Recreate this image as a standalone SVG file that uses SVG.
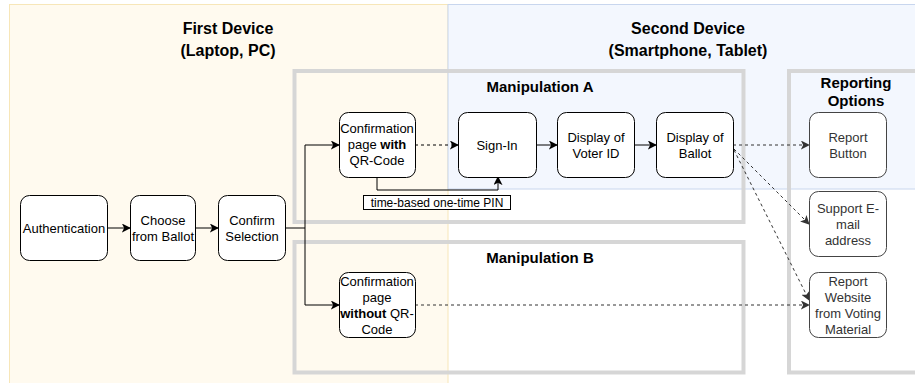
<svg xmlns="http://www.w3.org/2000/svg" width="915" height="383" viewBox="0 0 915 383">
<style>
text{font-family:"Liberation Sans",Arial,sans-serif;fill:#000}
.t{font-size:13px;text-anchor:middle}
.h{font-size:16px;font-weight:bold;text-anchor:middle}
.m{font-size:15px;font-weight:bold;text-anchor:middle}
.n{fill:#fff;stroke:#000;stroke-width:1}
.box{fill:none;stroke:#d4d4d4;stroke-width:4;opacity:0.95}
.e{fill:none;stroke:#000;stroke-width:1}
.d{fill:none;stroke:#000;stroke-width:1;stroke-dasharray:3 3}
.g{fill:none;stroke:#333;stroke-width:1;stroke-dasharray:3 3}
.rep text{fill:#333}
.rep rect{stroke:#444}
</style>
<defs>
<marker id="a" viewBox="0 0 10 10" refX="9" refY="5" markerWidth="9" markerHeight="9" markerUnits="userSpaceOnUse" orient="auto">
<path d="M0,0 L10,5 L0,10 L2.5,5 Z" fill="#000"/>
</marker>
<marker id="gm" viewBox="0 0 10 10" refX="9" refY="5" markerWidth="9" markerHeight="9" markerUnits="userSpaceOnUse" orient="auto">
<path d="M0,0 L10,5 L0,10 L2.5,5 Z" fill="#333"/>
</marker>
</defs>
<g id="backgrounds">
<rect x="9.5" y="4.5" width="438.5" height="390" fill="#fffaef" stroke="#f7e6b8"/>
<rect x="448" y="4.5" width="480" height="184.5" fill="#f3f7fe" stroke="#c8d6ee"/>
<text class="h" x="228" y="34">First Device</text>
<text class="h" x="228" y="56">(Laptop, PC)</text>
<text class="h" x="688" y="34">Second Device</text>
<text class="h" x="688" y="56">(Smartphone, Tablet)</text>
</g>
<g id="manipulationA">
<rect class="box" x="294.5" y="71" width="449" height="151"/>
<text class="m" x="540" y="92">Manipulation A</text>
</g>
<g id="manipulationB">
<rect class="box" x="294.5" y="242" width="449" height="130.5"/>
<text class="m" x="540" y="263">Manipulation B</text>
</g>
<g id="reporting">
<rect class="box" x="789" y="71" width="140" height="301.5"/>
<text class="m" x="856" y="88">Reporting</text>
<text class="m" x="856" y="106">Options</text>
</g>
<g id="connectors">
<path class="e" d="M108,228 H130" marker-end="url(#a)"/>
<path class="e" d="M195,228 H218" marker-end="url(#a)"/>
<path class="e" d="M285,228 H305 V145 H339" marker-end="url(#a)"/>
<path class="e" d="M305,228 V305 H339" marker-end="url(#a)"/>
<path class="d" d="M415,145 H458" marker-end="url(#a)"/>
<path class="e" d="M536,145 H557" marker-end="url(#a)"/>
<path class="e" d="M634,145 H656" marker-end="url(#a)"/>
<path class="e" d="M377,177 V190 H498 V177" marker-end="url(#a)"/>
<rect x="363.5" y="195.5" width="147" height="14" fill="#fff" stroke="#000"/>
<text x="437" y="207" font-size="12" text-anchor="middle">time-based one-time PIN</text>
<path class="g" d="M733,145 H809" marker-end="url(#gm)"/>
<path class="g" d="M734,149 L809,224" marker-end="url(#gm)"/>
<path class="g" d="M734,150 L809,300" marker-end="url(#gm)"/>
<path class="g" d="M415,305 H809" marker-end="url(#gm)"/>
</g>
<g id="authentication">
<rect class="n" x="20.5" y="195.5" width="87" height="65" rx="9"/>
<text class="t" x="64" y="232.5">Authentication</text>
</g>
<g id="choose">
<rect class="n" x="130.5" y="195.5" width="65" height="65" rx="9"/>
<text class="t" x="163" y="224.5">Choose</text>
<text class="t" x="163" y="240.5">from Ballot</text>
</g>
<g id="confirm">
<rect class="n" x="218.5" y="195.5" width="67" height="65" rx="9"/>
<text class="t" x="252" y="224.5">Confirm</text>
<text class="t" x="252" y="240.5">Selection</text>
</g>
<g id="withQR">
<rect class="n" x="339.5" y="112.5" width="76" height="65" rx="9"/>
<text class="t" x="377" y="133">Confirmation</text>
<text class="t" x="377" y="149">page <tspan font-weight="bold">with</tspan></text>
<text class="t" x="377" y="165">QR-Code</text>
</g>
<g id="withoutQR">
<rect class="n" x="339.5" y="272.5" width="76" height="65" rx="9"/>
<text class="t" x="377" y="285.5">Confirmation</text>
<text class="t" x="377" y="301.5">page</text>
<text class="t" x="377" y="317.5"><tspan font-weight="bold">without</tspan> QR-</text>
<text class="t" x="377" y="333.5">Code</text>
</g>
<g id="signin">
<rect class="n" x="458.5" y="112.5" width="78" height="65" rx="9"/>
<text class="t" x="497" y="149.5">Sign-In</text>
</g>
<g id="voterid">
<rect class="n" x="557.5" y="112.5" width="77" height="65" rx="9"/>
<text class="t" x="596" y="141.5">Display of</text>
<text class="t" x="596" y="157.5">Voter ID</text>
</g>
<g id="ballot">
<rect class="n" x="656.5" y="112.5" width="77" height="65" rx="9"/>
<text class="t" x="695" y="141.5">Display of</text>
<text class="t" x="695" y="157.5">Ballot</text>
</g>
<g id="reportButton" class="rep">
<rect class="n" x="809.5" y="112.5" width="77" height="65" rx="9"/>
<text class="t" x="848" y="141.5">Report</text>
<text class="t" x="848" y="157.5">Button</text>
</g>
<g id="supportEmail" class="rep">
<rect class="n" x="809.5" y="191.5" width="77" height="65" rx="9"/>
<text class="t" x="848" y="212.5">Support E-</text>
<text class="t" x="848" y="228.5">mail</text>
<text class="t" x="848" y="244.5">address</text>
</g>
<g id="reportWebsite" class="rep">
<rect class="n" x="809.5" y="272.5" width="77" height="65" rx="9"/>
<text class="t" x="848" y="285.5">Report</text>
<text class="t" x="848" y="301.5">Website</text>
<text class="t" x="848" y="317.5">from Voting</text>
<text class="t" x="848" y="333.5">Material</text>
</g>
</svg>
